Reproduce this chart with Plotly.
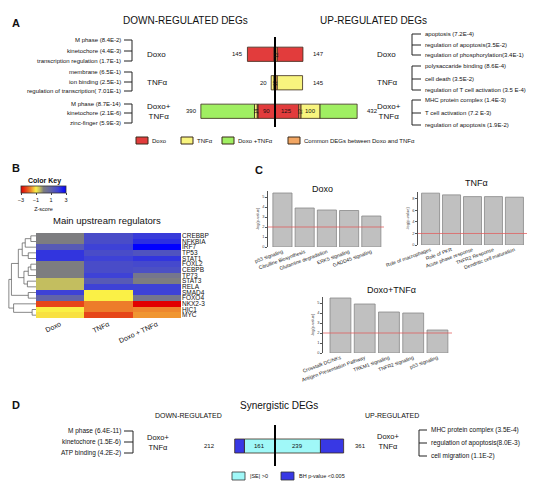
import numpy as np
import plotly.graph_objects as go

# The page body has an 8 px margin, so the figure is drawn 8 px in from the
# window's top-left corner; its size is chosen so that it fills the window.
OFF = 8
W, H = 542, 481
FONT = "Liberation Sans, Arial, sans-serif"


def px(x):
    return (x - OFF) / W


def py(y):
    return 1 - (y - OFF) / H


# ---------------- Panel A data ----------------
a_groups = ["Doxo", "TNFα", "Doxo+TNFα"]
a_group_labels = ["Doxo", "TNFα", "Doxo+<br>TNFα"]
a_down_kinds = [["Common", "Doxo"], ["Common", "TNFα"], ["Doxo", "Common", "TNFα", "Doxo+TNFα"]]
a_down_values = [[6, 139], [6, 14], [90, 4, 14, 282]]
a_down_text = [["", ""], ["", ""], ["90", "", "14", ""]]
a_up_kinds = [["Common", "Doxo"], ["Common", "TNFα"], ["Doxo", "Common", "TNFα", "Doxo+TNFα"]]
a_up_values = [[12, 135], [12, 133], [125, 12, 100, 195]]
a_up_text = [["12", ""], ["12", ""], ["125", "12", "100", ""]]
a_down_totals = [145, 20, 390]
a_up_totals = [147, 145, 432]
a_down_terms = [
    ["M phase (8.4E-2)", "kinetochore (4.4E-3)", "transcription regulation (1.7E-1)"],
    ["membrane (6.5E-1)", "ion binding (2.5E-1)", "regulation of transcription( 7.01E-1)"],
    ["M phase (8.7E-14)", "kinetochore (2.1E-6)", "zinc-finger (5.9E-3)"],
]
a_up_terms = [
    ["apoptosis (7.2E-4)", "regulation of apoptosis(3.5E-2)", "regulation of phosphorylation(3.4E-1)"],
    ["polysaccaride binding (8.6E-4)", "cell death (3.5E-2)", "regulation of T cell activation (3.5 E-4)"],
    ["MHC protein complex (1.4E-3)", "T cell activation (7.2 E-3)", "regulation of apoptosis (1.9E-2)"],
]
a_legend_kinds = ["Doxo", "TNFα", "Doxo+TNFα", "Common"]
a_legend_labels = ["Doxo", "TNFα", "Doxo +TNFα", "Common DEGs between Doxo and TNFα"]

# ---------------- Panel B data ----------------
b_regulators = ["CREBBP", "NFKBIA", "IRF7", "TP53", "STAT1", "FOXL2", "CEBPB", "TP73",
                "STAT3", "RELA", "SMAD4", "FOXO4", "NKX2-3", "HIC1", "MYC"]
b_conditions = ["Doxo", "TNFα", "Doxo + TNFα"]
b_doxo = [0.0, 0.0, 1.3, 2.2, 2.2, 0.0, 0.0, 0.0, -0.5, -0.5, 2.0, 1.0, -2.3, -1.0, -1.1]
b_tnf = [1.7, 1.7, 2.0, 1.7, 2.0, 1.7, 1.7, 2.0, 1.3, 2.0, -1.0, -1.0, -1.8, -1.8, -2.3]
b_combo = [2.1, 2.3, 3.0, 1.5, 2.2, 1.8, 1.6, 0.3, 0.0, 2.0, 2.0, 0.3, -3.0, -1.7, -1.6]
# row dendrogram (merge a, merge b, height); ids >= 15 are earlier merges
b_merge_a = [0, 15, 3, 16, 5, 19, 8, 20, 18, 10, 23, 13, 12, 25]
b_merge_b = [1, 2, 4, 17, 6, 7, 9, 21, 22, 11, 24, 14, 26, 27]
b_merge_h = [0.6, 1.25, 0.9, 1.6, 0.6, 0.9, 1.0, 1.4, 2.05, 0.9, 2.85, 0.45, 2.6, 3.15]
b_key_ticks = [-3, -1, 1, 3]

# ---------------- Panel C data ----------------
c_doxo_paths = ["p53 signaling", "Citrulline Biosynthesis", "Glutamine degradation",
                "ERK5 signaling", "GADD45 signaling"]
c_doxo_vals = [5.4, 3.9, 3.7, 3.65, 3.1]
c_tnf_paths = ["Role of macrophages", "Role of PKR", "Acute phase response",
               "TNFR2 Response", "Dendritic cell maturation"]
c_tnf_vals = [9.0, 8.7, 8.4, 8.4, 8.3]
c_combo_paths = ["Crosstalk DC/NKs", "Antigen Presentation Pathway", "TREM1 signaling",
                 "TNFR2 signaling", "p53 signaling"]
c_combo_vals = [5.5, 4.9, 4.1, 4.0, 2.3]
c_threshold = 2

# ---------------- Panel D data ----------------
d_groups = ["Doxo+TNFα"]
d_down_kinds = [["SE", "BH"]]
d_down_values = [[161, 51]]
d_down_text = [["161", ""]]
d_up_kinds = [["SE", "BH"]]
d_up_values = [[239, 122]]
d_up_text = [["239", ""]]
d_down_totals = [212]
d_up_totals = [361]
d_down_terms = ["M phase (6.4E-11)", "kinetochore (1.5E-6)", "ATP binding (4.2E-2)"]
d_up_terms = ["MHC protein complex (3.5E-4)", "regulation of apoptosis(8.0E-3)", "cell migration (1.1E-2)"]
d_legend_kinds = ["SE", "BH"]
d_legend_labels = ["|SE| >0", "BH p-value <0.005"]

# ---------------- styles ----------------
a_colors = {"Doxo": "#e23c3c", "TNFα": "#f8f47e", "Doxo+TNFα": "#a0ef62", "Common": "#f2a663"}
d_colors = {"SE": "#a0f8f8", "BH": "#3838e4"}
OUTLINE = "#3a2a1a"

fig = go.Figure()
annotations = []
shapes = []


def ann(text, x, y, size, xanchor="left", bold=False, xref="paper", yref="paper",
        yanchor="middle", color="#111", angle=0, **kw):
    """x / y are window pixels when the reference is 'paper', data values otherwise."""
    if bold:
        text = "<b>%s</b>" % text
    if xref == "paper":
        x = px(x)
    if yref == "paper":
        y = py(y)
    annotations.append(dict(
        text=text, x=x, y=y, xref=xref, yref=yref, xanchor=xanchor, yanchor=yanchor,
        showarrow=False, textangle=angle, borderpad=0,
        font=dict(family=FONT, size=size, color=color), **kw))


def line(x0, y0, x1, y1, color="#222", width=1):
    shapes.append(dict(type="line", xref="paper", yref="paper",
                       x0=px(x0), y0=py(y0), x1=px(x1), y1=py(y1),
                       line=dict(color=color, width=width)))


def add_stacked(groups, kinds, values, texts, sign, xa, ya, colors):
    for g, ks, vs, ts in zip(groups, kinds, values, texts):
        vs = np.asarray(vs, dtype=float)
        starts = np.concatenate([[0.0], np.cumsum(vs)[:-1]])
        for k, v, s, t in zip(ks, vs, starts, ts):
            fig.add_trace(go.Bar(
                orientation="h", y=[g], x=[sign * v], base=[sign * s], width=0.5,
                marker=dict(color=colors[k], line=dict(color=OUTLINE, width=0.8)),
                xaxis=xa, yaxis=ya, hoverinfo="skip", showlegend=False))
            if t:
                small = v < 20
                ann(t, sign * (s + v / 2), g, 4.5 if small else 6, xanchor="center",
                    xref=xa, yref=ya, angle=-90 if small else 0)


# ================= Panel A =================
add_stacked(a_groups, a_down_kinds, a_down_values, a_down_text, -1, "x", "y", a_colors)
add_stacked(a_groups, a_up_kinds, a_up_values, a_up_text, 1, "x", "y", a_colors)
for g, t in zip(a_groups, a_down_totals):
    ann(str(t), -t, g, 6, xanchor="right", xref="x", yref="y", xshift=-3)
for g, t in zip(a_groups, a_up_totals):
    ann(str(t), t, g, 6, xanchor="left", xref="x", yref="y", xshift=9)
shapes.append(dict(type="line", xref="x", yref="paper", x0=0, x1=0, y0=py(37), y1=py(127),
                   line=dict(color="black", width=2)))

ann("A", 11, 23, 11, bold=True)
ann("DOWN-REGULATED DEGs", 185, 20, 10, xanchor="center")
ann("UP-REGULATED DEGs", 373, 20, 10, xanchor="center")

for g, lab in zip(a_groups, a_group_labels):
    ann(lab, 146, g, 8, yref="y")
    ann(lab, 376, g, 8, yref="y")

a_down_term_y = [[40, 51, 61], [72, 82, 91], [104, 113, 123]]
a_up_term_y = [[34, 45, 55], [66, 79, 90], [100, 113, 125]]
for terms, ys in zip(a_down_terms, a_down_term_y):
    line(132, ys[0], 132, ys[-1])
    for t, yy in zip(terms, ys):
        line(124, yy, 132, yy)
        ann(t, 122, yy, 6, xanchor="right")
for terms, ys in zip(a_up_terms, a_up_term_y):
    line(412, ys[0], 412, ys[-1])
    for t, yy in zip(terms, ys):
        line(412, yy, 421, yy)
        ann(t, 424, yy, 6)

a_legend_x = [136, 181, 222, 288]
for k, lab, lx in zip(a_legend_kinds, a_legend_labels, a_legend_x):
    shapes.append(dict(type="rect", xref="paper", yref="paper", x0=px(lx), x1=px(lx + 12),
                       y0=py(144), y1=py(137), fillcolor=a_colors[k],
                       line=dict(color=OUTLINE, width=1)))
    ann(lab, lx + 15, 140.5, 6)

# ================= Panel B =================
Z = np.column_stack([b_doxo, b_tnf, b_combo])
colorscale = [
    [0.0, "rgb(225,0,0)"],
    [0.117, "rgb(230,70,25)"],
    [0.217, "rgb(238,135,45)"],
    [0.333, "rgb(250,240,70)"],
    [0.417, "rgb(195,190,95)"],
    [0.5, "rgb(125,125,128)"],
    [0.667, "rgb(98,100,168)"],
    [0.833, "rgb(62,66,214)"],
    [1.0, "rgb(0,0,255)"],
]
fig.add_trace(go.Heatmap(
    z=Z, x=b_conditions, y=b_regulators, xaxis="x2", yaxis="y2", zmin=-3, zmax=3,
    colorscale=colorscale, hoverinfo="skip",
    colorbar=dict(orientation="h", x=px(43.5), xanchor="center", y=py(186), yanchor="top",
                  len=45, lenmode="pixels", thickness=7, thicknessmode="pixels",
                  xpad=0, ypad=0, outlinewidth=0.8, outlinecolor="#333",
                  tickvals=b_key_ticks, ticks="outside", ticklen=2, tickwidth=0.6,
                  tickfont=dict(family=FONT, size=5.5, color="#111"),
                  title=dict(text="Z-score", side="bottom",
                             font=dict(family=FONT, size=5.5, color="#111")))))

# dendrogram from merges
pos = {i: float(i) for i in range(len(b_regulators))}
hgt = {i: 0.0 for i in range(len(b_regulators))}
dx, dy = [], []
for k, (a, b, h) in enumerate(zip(b_merge_a, b_merge_b, b_merge_h)):
    node = len(b_regulators) + k
    dx += [hgt[a], h, h, hgt[b], None]
    dy += [pos[a], pos[a], pos[b], pos[b], None]
    pos[node] = (pos[a] + pos[b]) / 2
    hgt[node] = h
fig.add_trace(go.Scatter(x=dx, y=dy, mode="lines", line=dict(color="#555", width=0.7),
                         xaxis="x3", yaxis="y3", hoverinfo="skip", showlegend=False))

ann("B", 11, 168, 11, bold=True)
ann("Color Key", 44, 181, 7, xanchor="center", bold=True)
ann("Main upstream regulators", 107, 220, 9.5, xanchor="center")

# ================= Panel C =================
BAR_GREY = "#c0c0c0"
for xs, ys, xa, ya in [(c_doxo_paths, c_doxo_vals, "x4", "y4"),
                       (c_tnf_paths, c_tnf_vals, "x5", "y5"),
                       (c_combo_paths, c_combo_vals, "x6", "y6")]:
    fig.add_trace(go.Bar(x=xs, y=ys, xaxis=xa, yaxis=ya,
                         marker=dict(color=BAR_GREY, line=dict(color="#888", width=0.8)),
                         hoverinfo="skip", showlegend=False))
    shapes.append(dict(type="line", xref=xa + " domain", yref=ya, x0=0, x1=1,
                       y0=c_threshold, y1=c_threshold,
                       line=dict(color="rgba(225,90,90,0.75)", width=1)))

ann("C", 254, 170, 11, bold=True)
ann("Doxo", 322, 189, 9, xanchor="center")
ann("TNFα", 476, 183, 9, xanchor="center")
ann("Doxo+TNFα", 391, 290, 9, xanchor="center")

# ================= Panel D =================
add_stacked(d_groups, d_down_kinds, d_down_values, d_down_text, -1, "x7", "y7", d_colors)
add_stacked(d_groups, d_up_kinds, d_up_values, d_up_text, 1, "x7", "y7", d_colors)
for g, t in zip(d_groups, d_down_totals):
    ann(str(t), -t, g, 6, xanchor="right", xref="x7", yref="y7", xshift=-19)
for g, t in zip(d_groups, d_up_totals):
    ann(str(t), t, g, 6, xanchor="left", xref="x7", yref="y7", xshift=10)
shapes.append(dict(type="line", xref="x7", yref="paper", x0=0, x1=0, y0=py(425), y1=py(466),
                   line=dict(color="black", width=2)))

ann("D", 11, 405, 11, bold=True)
ann("Synergistic DEGs", 279, 405, 10, xanchor="center")
ann("DOWN-REGULATED", 188, 415, 7, xanchor="center")
ann("UP-REGULATED", 392, 415, 7, xanchor="center")
ann("Doxo+<br>TNFα", 146, 442, 7.5)
ann("Doxo+<br>TNFα", 376, 441, 7.5)

d_down_y = [431, 442, 453]
d_up_y = [430, 443, 456]
line(133, d_down_y[0], 133, d_down_y[-1])
for t, yy in zip(d_down_terms, d_down_y):
    line(124, yy, 133, yy)
    ann(t, 122, yy, 6.5, xanchor="right")
line(419, d_up_y[0], 419, d_up_y[-1])
for t, yy in zip(d_up_terms, d_up_y):
    line(419, yy, 427, yy)
    ann(t, 430, yy, 6.5)

d_legend_x = [232, 281]
for k, lab, lx in zip(d_legend_kinds, d_legend_labels, d_legend_x):
    shapes.append(dict(type="rect", xref="paper", yref="paper", x0=px(lx), x1=px(lx + 13),
                       y0=py(480), y1=py(472), fillcolor=d_colors[k],
                       line=dict(color="#333", width=0.8)))
    ann(lab, lx + 17, 476, 5.5)

# ================= Layout =================
hidden = dict(visible=False, fixedrange=True, automargin=False)
cat_y = dict(visible=False, type="category", automargin=False)
small_tick = dict(family=FONT, size=5, color="#222")
yax_c = dict(showline=True, linecolor="#555", linewidth=0.6, ticks="outside", ticklen=2,
             tickwidth=0.6, tickcolor="#555", showgrid=False, zeroline=False, automargin=False,
             tickfont=dict(family=FONT, size=4, color="#444"),
             title=dict(text="-log(p-value)", font=dict(family=FONT, size=4, color="#444"),
                        standoff=2))
xax_c = dict(type="category", tickangle=-20, ticks="", showgrid=False, showline=False,
             automargin=False, tickfont=small_tick, dtick=1)

fig.update_layout(
    template="none",
    width=W, height=H, margin=dict(l=0, r=0, t=0, b=0, pad=0, autoexpand=False),
    paper_bgcolor="white", plot_bgcolor="white", showlegend=False,
    barmode="overlay", bargap=0.14,
    font=dict(family=FONT, color="#111"),
    xaxis=dict(domain=[px(175), px(375)], range=[-526, 526], anchor="y", **hidden),
    yaxis=dict(domain=[py(125.5), py(40)], categoryorder="array", categoryarray=a_groups,
               range=[2.5, -0.5], anchor="x", **cat_y),
    xaxis2=dict(domain=[px(36), px(181)], anchor="y2", tickangle=-25, ticks="", automargin=False,
                tickfont=dict(family=FONT, size=7, color="#111"), showgrid=False, showline=False,
                zeroline=False),
    yaxis2=dict(domain=[py(318), py(233)], anchor="x2", side="right", autorange="reversed",
                ticks="", automargin=False, tickmode="array", tickvals=b_regulators,
                tickfont=dict(family=FONT, size=6.5, color="#111"), showgrid=False,
                showline=False, zeroline=False),
    xaxis3=dict(domain=[px(8), px(36)], range=[3.25, 0], anchor="y3", **hidden),
    yaxis3=dict(domain=[py(318), py(233)], range=[14.5, -0.5], anchor="x3", **hidden),
    xaxis4=dict(domain=[px(268), px(384)], range=[-0.65, 4.57], anchor="y4", **xax_c),
    yaxis4=dict(domain=[py(247), py(191)], range=[0, 5.6], dtick=1, anchor="x4", **yax_c),
    xaxis5=dict(domain=[px(418), px(527)], range=[-0.6, 4.6], anchor="y5", **xax_c),
    yaxis5=dict(domain=[py(245), py(192)], range=[0, 9.2], dtick=2, anchor="x5", **yax_c),
    xaxis6=dict(domain=[px(323), px(452)], range=[-0.72, 4.6], anchor="y6", **xax_c),
    yaxis6=dict(domain=[py(353), py(297)], range=[0, 5.6], dtick=1, anchor="x6", **yax_c),
    xaxis7=dict(domain=[px(175), px(375)], range=[-526, 526], anchor="y7", **hidden),
    yaxis7=dict(domain=[py(460), py(432)], range=[0.5, -0.5], anchor="x7", **cat_y),
    annotations=annotations, shapes=shapes,
)

fig.write_html("out.html")
